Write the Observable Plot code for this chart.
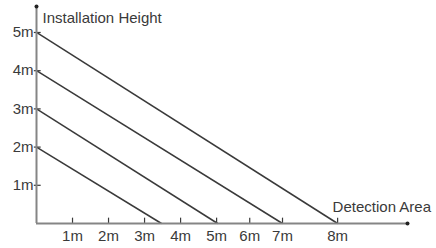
<!DOCTYPE html>
<html>
<head>
<meta charset="utf-8">
<script src="https://cdn.jsdelivr.net/npm/d3@7"></script>
<script src="https://cdn.jsdelivr.net/npm/@observablehq/plot@0.6"></script>
<style>
  html, body { margin: 0; padding: 0; background: #fff; }
  svg { display: block; }
</style>
</head>
<body>
<div id="chart"></div>
<script>
// Installation heights (m) and the detection range each line reaches (m, as positioned in the picture)
const heights = [2, 3, 4, 5];
const reach = [3.47, 5.03, 6.83, 8.36];
// x tick positions (as placed on the picture) and their labels
const xTickPos = [1, 2, 3, 4, 5, 5.92, 6.83, 8.36];
const xTickLabels = ["1m", "2m", "3m", "4m", "5m", "6m", "7m", "8m"];
const yTickPos = [1, 2, 3, 4, 5];
const yTickLabels = ["1m", "2m", "3m", "4m", "5m"];
const xTitle = "Detection Area";
const yTitle = "Installation Height";
const xMax = 10.3;
const yMax = 5.68;

const lines = heights.map((h, i) => ({h, r: reach[i]}));
const font = "Liberation Sans, Arial, sans-serif";
const ink = "#3a3a3a";
const axisColor = "#858585";

const chart = Plot.plot({
  width: 436,
  height: 248,
  marginLeft: 36,
  marginRight: 29,
  marginTop: 6,
  marginBottom: 25,
  style: {fontFamily: font, fontSize: "15px", color: ink, background: "#fff"},
  x: {domain: [0, xMax]},
  y: {domain: [0, yMax]},
  marks: [
    Plot.axisX({ticks: xTickPos, tickFormat: (d, i) => xTickLabels[i], tickSize: 0, tickPadding: 7, fill: ink, fontSize: 15, label: null}),
    Plot.axisY({ticks: yTickPos, tickFormat: (d, i) => yTickLabels[i], tickSize: 0, tickPadding: 3, fill: ink, fontSize: 15, label: null}),
    Plot.ruleX(xTickPos, {x: d => d, y1: 0, y2: 0.14, stroke: ink, strokeWidth: 1.2}),
    Plot.ruleY(yTickPos, {y: d => d, x1: -0.06, x2: 0.13, stroke: ink, strokeWidth: 1.2}),
    Plot.link(lines, {x1: 0, y1: "h", x2: "r", y2: 0, stroke: ink, strokeWidth: 1.5}),
    Plot.ruleY([0], {x1: 0, x2: xMax, stroke: axisColor, strokeWidth: 2}),
    Plot.ruleX([0], {y1: 0, y2: yMax, stroke: axisColor, strokeWidth: 2}),
    Plot.dot([[0, yMax], [xMax, 0]], {x: d => d[0], y: d => d[1], r: 2, fill: "#222", stroke: null}),
    Plot.text([yTitle], {x: 0, y: yMax, text: d => d, dx: 6, dy: 12, textAnchor: "start", fill: ink, fontSize: 15}),
    Plot.text([xTitle], {x: reach[3], y: 0, text: d => d, dx: -5, dy: -16, textAnchor: "start", fill: ink, fontSize: 15})
  ]
});
document.getElementById("chart").appendChild(chart);
</script>
</body>
</html>
